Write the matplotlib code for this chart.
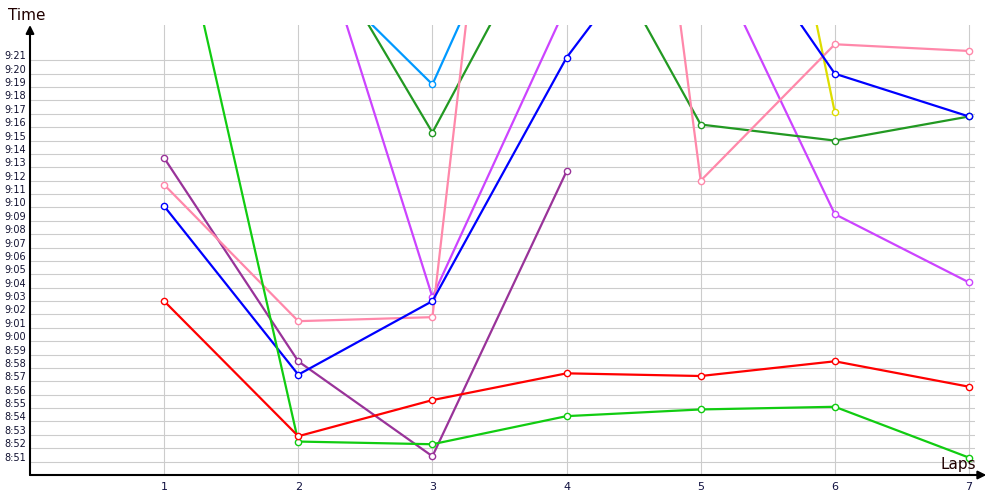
import numpy as np
import matplotlib
matplotlib.use("Agg")
import matplotlib.pyplot as plt
import matplotlib.transforms as mtransforms


# lap times, in seconds (8:50 = 530 s)
laps_all = [1, 2, 3, 4, 5, 6, 7]

red = [543.0, 532.9, 535.6, 537.6, 537.4, 538.5, 536.6]
lime = [576.8, 532.5, 532.3, 534.4, 534.9, 535.1, 531.3]
blue = [550.1, 537.5, 543.0, 561.2, 574.5, 560.0, 556.8]
pink = [551.7, 541.5, 541.8, 629.3, 552.0, 562.2, 561.7]

purple_laps = [1, 2, 3, 4]
purple = [553.7, 538.5, 531.4, 552.7]

violet_laps = [2, 3, 4, 5, 6, 7]
violet = [575.1, 543.3, 565.1, 570.5, 549.5, 544.4]

dkgreen_laps = [2, 3, 4, 5, 6, 7]
dkgreen = [572.5, 555.6, 574.3, 556.2, 555.0, 556.8]

ltblue_laps = [2, 3, 4]
ltblue = [569.1, 559.2, 581.4]

yellow_laps = [5, 6]
yellow = [605.7, 557.1]

series = [
    (ltblue_laps, ltblue, "#0099ff"),
    (yellow_laps, yellow, "#dddd00"),
    (violet_laps, violet, "#cc44ff"),
    (dkgreen_laps, dkgreen, "#229922"),
    (purple_laps, purple, "#993399"),
    (laps_all, pink, "#ff88aa"),
    (laps_all, blue, "#0000ff"),
    (laps_all, lime, "#11cc11"),
    (laps_all, red, "#ff0000"),
]

y_ticks = np.arange(531, 562)  # 8:51 .. 9:21


def fmt(s):
    return "%d:%02d" % (s // 60, s % 60)


fig = plt.figure(figsize=(10, 5), dpi=100)
ax = fig.add_axes([0.030, 0.050, 0.945, 0.900])

for xs, ys, c in series:
    ax.plot(xs, ys, color=c, lw=1.6, marker="o", ms=4.5, mfc="white",
            mec=c, mew=1.0, zorder=3)

ax.set_xlim(0, 7.045)
ax.set_ylim(530, 563.64)

ax.set_xticks(laps_all)
ax.set_xticklabels([str(l) for l in laps_all])
ax.set_yticks(y_ticks)
ax.set_yticklabels([fmt(s) for s in y_ticks])
ax.grid(True, color="#cccccc", lw=0.8, zorder=0)

ax.tick_params(axis="x", length=0, pad=5, labelsize=8, labelcolor="#101040")
ax.tick_params(axis="y", length=0, pad=18.5, labelsize=7, labelcolor="#101030")
offset = mtransforms.ScaledTranslation(0, 0.05, fig.dpi_scale_trans)
for lbl in ax.get_yticklabels():
    lbl.set_horizontalalignment("left")
    lbl.set_transform(lbl.get_transform() + offset)

for sp in ax.spines.values():
    sp.set_visible(False)

# axis arrows
ax.annotate("", xy=(1.012, 0), xytext=(0, 0), xycoords="axes fraction",
            arrowprops=dict(arrowstyle="-|>", color="black", lw=1.5,
                            mutation_scale=12, shrinkA=0, shrinkB=0))
ax.annotate("", xy=(0, 1.0), xytext=(0, 0), xycoords="axes fraction",
            arrowprops=dict(arrowstyle="-|>", color="black", lw=1.5,
                            mutation_scale=12, shrinkA=0, shrinkB=0))

fig.text(0.008, 0.970, "Time", fontsize=11, color="#200000", va="center", ha="left")
fig.text(0.976, 0.072, "Laps", fontsize=11, color="#200000", va="center", ha="right")

fig.savefig("out.png", dpi=100)
